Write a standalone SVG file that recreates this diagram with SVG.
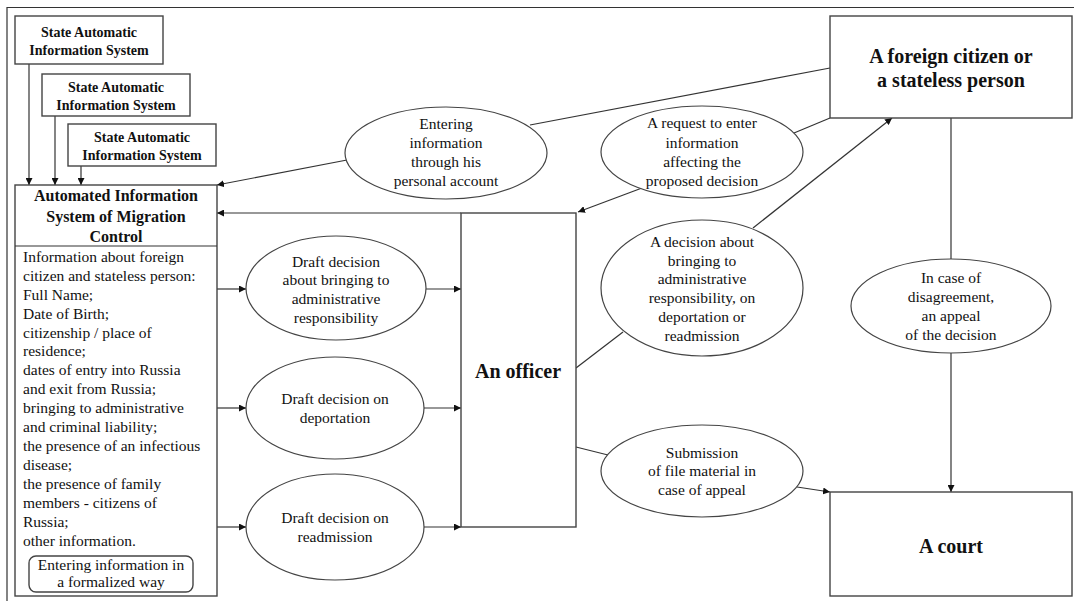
<svg xmlns="http://www.w3.org/2000/svg" width="1074" height="601" viewBox="0 0 1074 601" font-family="'Liberation Serif', 'Times New Roman', serif">
<defs>
<marker id="ah" viewBox="0 0 10 10" refX="10" refY="5" markerWidth="7" markerHeight="7" markerUnits="userSpaceOnUse" orient="auto">
<path d="M0,0 L10,5 L0,10 z" fill="#111"/>
</marker>
</defs>
<style>
.box{fill:#fff;stroke:#444;stroke-width:1.4}
.ell{fill:#fff;stroke:#444;stroke-width:1.2}
.ln{fill:none;stroke:#333;stroke-width:1.2}
.arr{fill:none;stroke:#333;stroke-width:1.2;marker-end:url(#ah)}
text{font-family:'Liberation Serif','Times New Roman',serif;fill:#111}
.t{font-size:15.5px;text-anchor:middle}
.tl{font-size:15.5px}
.sb{font-size:14px;font-weight:bold;text-anchor:middle}
.hb{font-size:16px;font-weight:bold;text-anchor:middle}
.bb{font-size:20px;font-weight:bold;text-anchor:middle}
.fb{font-size:20px;font-weight:bold;text-anchor:middle}
</style>
<rect width="1074" height="601" fill="#fff"/>
<path d="M7,601 V7.5 H1074" fill="none" stroke="#333" stroke-width="1.2"/>

<g id="connectors">
<line class="arr" x1="29" y1="64" x2="29" y2="185"/>
<line class="arr" x1="55" y1="116" x2="55" y2="185"/>
<line class="arr" x1="81" y1="166" x2="81" y2="185"/>
<line class="arr" x1="347" y1="160" x2="217" y2="185"/>
<line class="ln" x1="830" y1="68" x2="530" y2="125"/>
<line class="arr" x1="461" y1="213" x2="217" y2="213"/>
<line class="arr" x1="642" y1="188" x2="578" y2="212"/>
<line class="ln" x1="830" y1="118" x2="794" y2="133"/>
<line class="arr" x1="217" y1="289" x2="246" y2="289"/>
<line class="arr" x1="217" y1="408" x2="246" y2="408"/>
<line class="arr" x1="217" y1="527" x2="246" y2="527"/>
<line class="arr" x1="426" y1="289" x2="461" y2="289"/>
<line class="arr" x1="424" y1="408" x2="461" y2="408"/>
<line class="arr" x1="424" y1="527" x2="461" y2="527"/>
<line class="ln" x1="576" y1="368" x2="623" y2="332"/>
<line class="arr" x1="753" y1="228" x2="892" y2="118"/>
<line class="ln" x1="951" y1="118" x2="951" y2="260"/>
<line class="arr" x1="951" y1="353" x2="951" y2="492"/>
<line class="ln" x1="576" y1="447" x2="608" y2="455"/>
<line class="arr" x1="797" y1="487" x2="830" y2="492"/>
</g>

<g id="sais1">
<rect class="box" x="15" y="16" width="148" height="48"/>
<text class="sb" x="89" y="37">State Automatic</text>
<text class="sb" x="89" y="55">Information System</text>
</g>
<g id="sais2">
<rect class="box" x="42" y="74" width="148" height="42"/>
<text class="sb" x="116" y="92">State Automatic</text>
<text class="sb" x="116" y="110">Information System</text>
</g>
<g id="sais3">
<rect class="box" x="68" y="124" width="148" height="42"/>
<text class="sb" x="142" y="142">State Automatic</text>
<text class="sb" x="142" y="160">Information System</text>
</g>

<g id="ais">
<rect class="box" x="15" y="185" width="202" height="411"/>
<line class="ln" x1="15" y1="246" x2="217" y2="246"/>
<text class="hb" x="116" y="201">Automated Information</text>
<text class="hb" x="116" y="222">System of Migration</text>
<text class="hb" x="116" y="242">Control</text>
<text class="tl" x="23" y="262">Information about foreign</text>
<text class="tl" x="23" y="281">citizen and stateless person:</text>
<text class="tl" x="23" y="300">Full Name;</text>
<text class="tl" x="23" y="319">Date of Birth;</text>
<text class="tl" x="23" y="338">citizenship / place of</text>
<text class="tl" x="23" y="356">residence;</text>
<text class="tl" x="23" y="375">dates of entry into Russia</text>
<text class="tl" x="23" y="394">and exit from Russia;</text>
<text class="tl" x="23" y="413">bringing to administrative</text>
<text class="tl" x="23" y="432">and criminal liability;</text>
<text class="tl" x="23" y="451">the presence of an infectious</text>
<text class="tl" x="23" y="470">disease;</text>
<text class="tl" x="23" y="489">the presence of family</text>
<text class="tl" x="23" y="508">members - citizens of</text>
<text class="tl" x="23" y="527">Russia;</text>
<text class="tl" x="23" y="546">other information.</text>
</g>
<g id="formalized">
<rect class="box" x="29" y="556" width="164" height="36" rx="7" ry="7" stroke-width="1.2"/>
<text class="t" x="111" y="570">Entering information in</text>
<text class="t" x="111" y="587">a formalized way</text>
</g>

<g id="personal">
<ellipse class="ell" cx="446" cy="153" rx="101" ry="46"/>
<text class="t" x="446" y="129">Entering</text>
<text class="t" x="446" y="148">information</text>
<text class="t" x="446" y="167">through his</text>
<text class="t" x="446" y="186">personal account</text>
</g>

<g id="request">
<ellipse class="ell" cx="702" cy="152" rx="101" ry="46"/>
<text class="t" x="702" y="128">A request to enter</text>
<text class="t" x="702" y="148">information</text>
<text class="t" x="702" y="167">affecting the</text>
<text class="t" x="702" y="186">proposed decision</text>
</g>

<g id="foreign">
<rect class="box" x="830" y="16" width="242" height="102"/>
<text class="fb" x="951" y="63">A foreign citizen or</text>
<text class="fb" x="951" y="87">a stateless person</text>
</g>

<g id="draft1">
<ellipse class="ell" cx="336" cy="288" rx="90" ry="52"/>
<text class="t" x="336" y="267">Draft decision</text>
<text class="t" x="336" y="285">about bringing to</text>
<text class="t" x="336" y="304">administrative</text>
<text class="t" x="336" y="323">responsibility</text>
</g>
<g id="draft2">
<ellipse class="ell" cx="335" cy="408" rx="89" ry="51"/>
<text class="t" x="335" y="404">Draft decision on</text>
<text class="t" x="335" y="423">deportation</text>
</g>
<g id="draft3">
<ellipse class="ell" cx="335" cy="527" rx="89" ry="53"/>
<text class="t" x="335" y="523">Draft decision on</text>
<text class="t" x="335" y="542">readmission</text>
</g>

<g id="officer">
<rect class="box" x="461" y="213" width="115" height="314"/>
<text class="bb" x="518" y="378">An officer</text>
</g>

<g id="decision">
<ellipse class="ell" cx="702" cy="288" rx="101" ry="68"/>
<text class="t" x="702" y="247">A decision about</text>
<text class="t" x="702" y="266">bringing  to</text>
<text class="t" x="702" y="284">administrative</text>
<text class="t" x="702" y="303">responsibility,  on</text>
<text class="t" x="702" y="322">deportation or</text>
<text class="t" x="702" y="341">readmission</text>
</g>

<g id="submission">
<ellipse class="ell" cx="702" cy="471" rx="101" ry="46"/>
<text class="t" x="702" y="458">Submission</text>
<text class="t" x="702" y="476">of file material in</text>
<text class="t" x="702" y="495">case of appeal</text>
</g>

<g id="appeal">
<ellipse class="ell" cx="951" cy="306" rx="100" ry="47"/>
<text class="t" x="951" y="283">In case of</text>
<text class="t" x="951" y="302">disagreement,</text>
<text class="t" x="951" y="321">an appeal</text>
<text class="t" x="951" y="340">of the decision</text>
</g>

<g id="court">
<rect class="box" x="830" y="492" width="242" height="104"/>
<text class="bb" x="951" y="553">A court</text>
</g>
</svg>
